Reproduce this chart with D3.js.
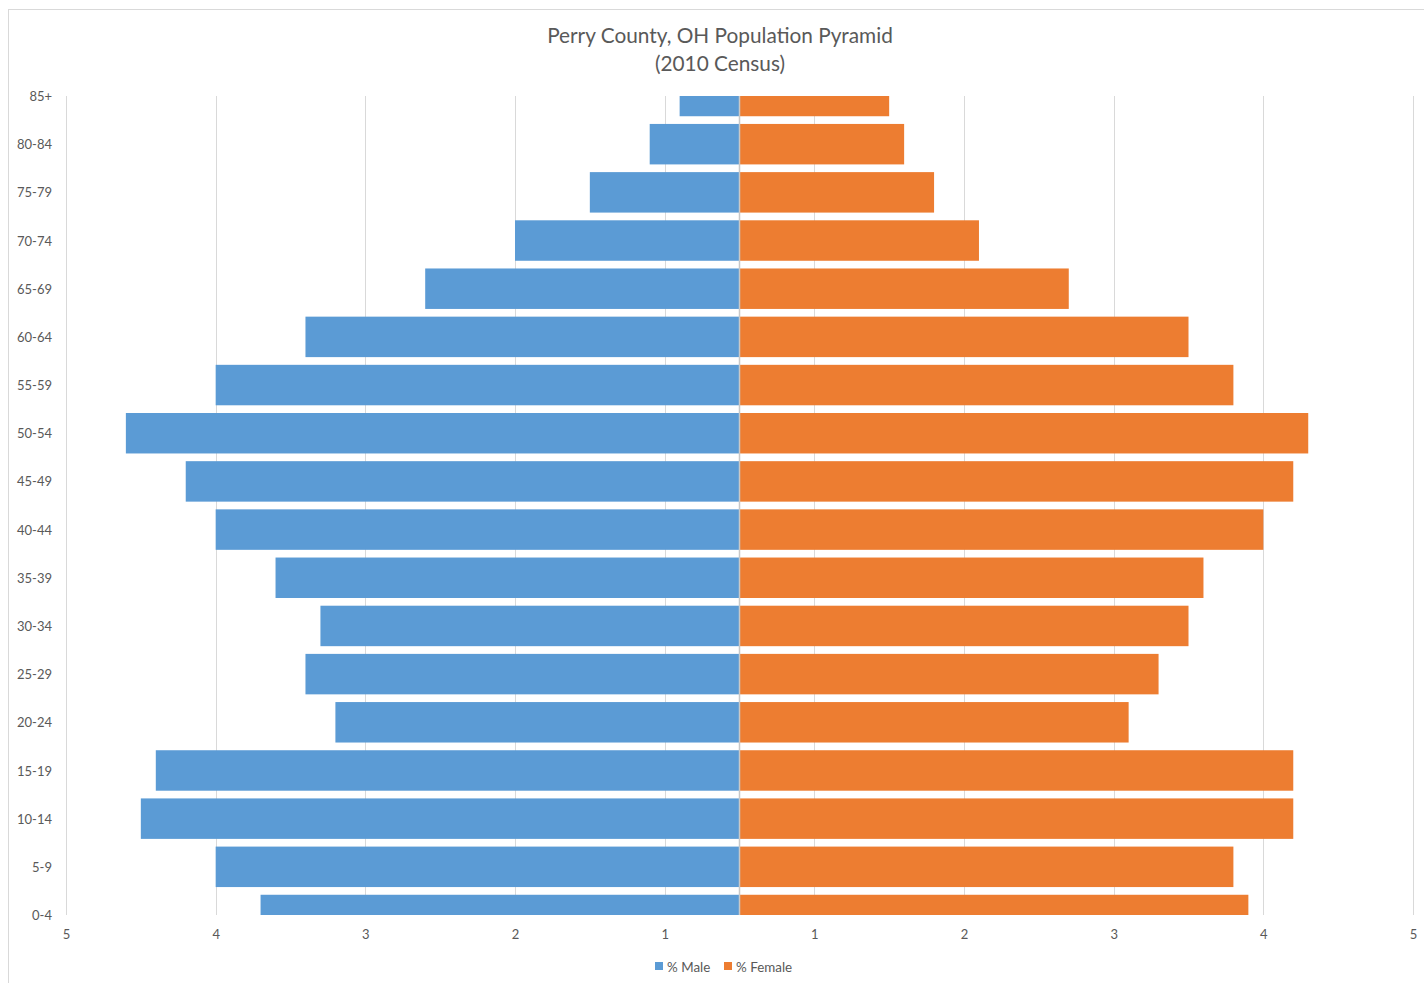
<!DOCTYPE html>
<html>
<head>
<meta charset="utf-8">
<script src="https://cdn.jsdelivr.net/npm/d3@7"></script>
<style>
  html, body { margin: 0; padding: 0; background: #fff; }
  svg { display: block; font-family: Lato, "Open Sans", sans-serif; }
</style>
</head>
<body>
<svg id="chart" width="1424" height="983"></svg>
<script>
// ---- data ----
const ageGroups = ["0-4","5-9","10-14","15-19","20-24","25-29","30-34","35-39","40-44","45-49","50-54","55-59","60-64","65-69","70-74","75-79","80-84","85+"];
const maleValues = [3.2, 3.5, 4.0, 3.9, 2.7, 2.9, 2.8, 3.1, 3.5, 3.7, 4.1, 3.5, 2.9, 2.1, 1.5, 1.0, 0.6, 0.4];
const femaleValues = [3.4, 3.3, 3.7, 3.7, 2.6, 2.8, 3.0, 3.1, 3.5, 3.7, 3.8, 3.3, 3.0, 2.2, 1.6, 1.3, 1.1, 1.0];
const xTickValues = [-4.5, -3.5, -2.5, -1.5, -0.5, 0.5, 1.5, 2.5, 3.5, 4.5];
const xTickLabels = ["5","4","3","2","1","1","2","3","4","5"];
const seriesNames = ["% Male", "% Female"];
const titleLines = ["Perry County, OH Population Pyramid", "(2010 Census)"];

// ---- layout ----
const colors = { male: "#5B9BD5", female: "#ED7D31" };
const textColor = "#595959";
const gridColor = "#d9d9d9";
const plot = { left: 66, right: 1413, top: 96, bottom: 915 };

const svg = d3.select("#chart");

// chart border
svg.append("rect")
  .attr("x", 8.5).attr("y", 9.5)
  .attr("width", 1440).attr("height", 1000)
  .attr("fill", "none").attr("stroke", gridColor).attr("stroke-width", 1);

const x = d3.scaleLinear().domain([-4.5, 4.5]).range([plot.left, plot.right]);
const y = d3.scalePoint().domain(ageGroups).range([plot.bottom, plot.top]);
const barH = y.step() * 0.84;

// gridlines
svg.append("g").selectAll("line").data(xTickValues).join("line")
  .attr("x1", d => Math.round(x(d)) + 0.5).attr("x2", d => Math.round(x(d)) + 0.5)
  .attr("y1", plot.top).attr("y2", plot.bottom)
  .attr("stroke", gridColor).attr("stroke-width", 1);

// clip
svg.append("clipPath").attr("id", "plotClip").append("rect")
  .attr("x", plot.left).attr("y", plot.top)
  .attr("width", plot.right - plot.left).attr("height", plot.bottom - plot.top);

const bars = svg.append("g").attr("clip-path", "url(#plotClip)");

bars.selectAll("rect.male").data(ageGroups).join("rect")
  .attr("class", "male")
  .attr("x", (d, i) => x(-maleValues[i]))
  .attr("width", (d, i) => x(0) - x(-maleValues[i]))
  .attr("y", d => y(d) - barH / 2)
  .attr("height", barH)
  .attr("fill", colors.male);

bars.selectAll("rect.female").data(ageGroups).join("rect")
  .attr("class", "female")
  .attr("x", x(0))
  .attr("width", (d, i) => x(femaleValues[i]) - x(0))
  .attr("y", d => y(d) - barH / 2)
  .attr("height", barH)
  .attr("fill", colors.female);

// center axis line
svg.append("line")
  .attr("x1", x(0)).attr("x2", x(0))
  .attr("y1", plot.top).attr("y2", plot.bottom)
  .attr("stroke", "#c8c8c8").attr("stroke-width", 1.5);

// y axis labels
const yAxis = d3.axisLeft(y).tickSize(0).tickPadding(0);
const gy = svg.append("g").attr("transform", `translate(52,0)`).call(yAxis);
gy.select(".domain").remove();
gy.selectAll("text")
  .attr("fill", textColor).attr("font-size", 13)
  .attr("font-family", "Lato, 'Open Sans', sans-serif")
  .attr("dy", "0.35em");

// x axis labels
const xAxis = d3.axisBottom(x).tickValues(xTickValues).tickSize(0).tickPadding(0)
  .tickFormat((d, i) => xTickLabels[i]);
const gx = svg.append("g").attr("transform", `translate(0,930)`).call(xAxis);
gx.select(".domain").remove();
gx.selectAll("text")
  .attr("fill", textColor).attr("font-size", 13)
  .attr("font-family", "Lato, 'Open Sans', sans-serif");

// title
svg.append("g").selectAll("text").data(titleLines).join("text")
  .attr("x", 720).attr("y", (d, i) => 43 + i * 28)
  .attr("text-anchor", "middle")
  .attr("fill", textColor).attr("font-size", 20.8)
  .text(d => d);

// legend
const legend = svg.append("g");
const legendItems = [
  { name: seriesNames[0], color: colors.male, x: 655 },
  { name: seriesNames[1], color: colors.female, x: 724 }
];
legendItems.forEach(it => {
  legend.append("rect").attr("x", it.x).attr("y", 962).attr("width", 8).attr("height", 8).attr("fill", it.color);
  legend.append("text").attr("x", it.x + 12).attr("y", 971.5)
    .attr("fill", textColor).attr("font-size", 13.4).text(it.name);
});
</script>
</body>
</html>
